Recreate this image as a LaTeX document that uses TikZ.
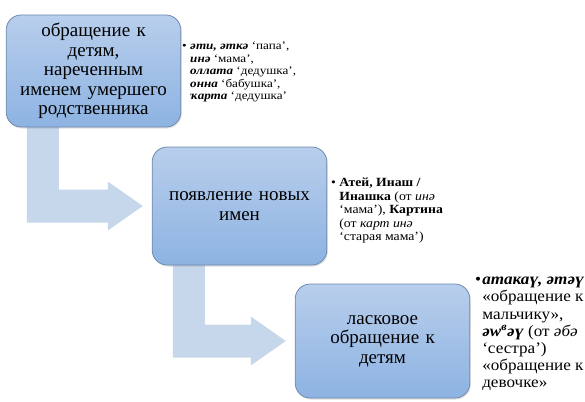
\documentclass[tikz,border=0pt]{standalone}
\usepackage{fontspec}
\setmainfont{Liberation Serif}
\usetikzlibrary{calc,backgrounds,shadows}

\definecolor{boxtop}{RGB}{184,206,236}
\definecolor{boxbottom}{RGB}{141,179,226}
\definecolor{boxline}{RGB}{112,138,172}
\definecolor{arrowfill}{RGB}{198,215,236}

\tikzset{
  stage/.style={rectangle, rounded corners=15pt, draw=boxline, line width=0.8pt,
    top color=boxtop, bottom color=boxbottom, align=center, text width=168pt,
    font=\fontsize{19}{19.5}\selectfont,
    drop shadow={shadow xshift=1pt, shadow yshift=-1.5pt, opacity=0.25}},
  note/.style={anchor=north west, inner sep=0pt, align=left}
}

% bent block arrow from the bottom of one stage to the left side of the next
\newcommand{\bentarrow}[2]{%
  \fill[arrowfill] let \p1=(#1.south west), \p2=(#2.west) in
    (\x1+21pt,\y1+10pt) -- (\x1+21pt,\y2-16.5pt) -- (\x2-44pt,\y2-16.5pt)
    -- (\x2-44pt,\y2-24.5pt) -- (\x2-9pt,\y2) -- (\x2-44pt,\y2+24.5pt)
    -- (\x2-44pt,\y2+16.5pt) -- (\x1+53pt,\y2+16.5pt) -- (\x1+53pt,\y1+10pt) -- cycle;
}
\newcommand{\bi}[1]{\textbf{\textit{#1}}}

\begin{document}
\begin{tikzpicture}[x=1pt,y=-1pt]
  \useasboundingbox (0,0) rectangle (585,401);

  % stages
  \node[stage, minimum width=169pt, minimum height=112pt] (dead) at (93.5,71)
    {обращение к\\ детям,\\ нареченным\\ именем умершего\\ родственника};
  \node[stage, minimum width=173pt, minimum height=118pt] (new) at (239.5,206)
    {появление новых\\ имен};
  \node[stage, minimum width=173pt, minimum height=114pt] (tender) at (382.5,341)
    {ласковое\\ обращение к\\ детям};

  % arrows between the stages
  \begin{scope}[on background layer]
    \bentarrow{dead}{new}
    \bentarrow{new}{tender}
  \end{scope}

  % notes
  \node[note, font=\fontsize{11.5}{12.5}\selectfont] (deadnote) at (182,42)
    {\scalebox{1.14}[1]{•\hspace{3pt}\parbox[t]{120pt}{\raggedright
      \bi{әти, әткә} ‘папа’,\\
      \bi{инә} ‘мама’,\\
      \bi{оллата} ‘дедушка’,\\
      \bi{онна} ‘бабушка’,\\
      \bi{ҡарта} ‘дедушка’}}};

  \node[note, font=\fontsize{12.5}{13.5}\selectfont] (newnote) at (331,178)
    {\scalebox{1.1}[1]{•\hspace{3pt}\parbox[t]{120pt}{\raggedright
      \textbf{Атей, Инаш /}\\
      \textbf{Инашка} (от \textit{инә}\\
      ‘мама’), \textbf{Картина}\\
      (от \textit{карт инә}\\
      ‘старая мама’)}}};

  \node[note, font=\fontsize{16}{17.2}\selectfont] (tendernote) at (475,277)
    {\scalebox{1.07}[1]{•\hspace{1pt}\parbox[t]{100pt}{\raggedright
      \bi{атакаү, әтәү}\\
      «обращение к\\
      мальчику»,\\
      \bi{әw\textsuperscript{в}әү} (от \textit{әбә}\\
      ‘сестра’)\\
      «обращение к\\
      девочке»}}};
\end{tikzpicture}
\end{document}
